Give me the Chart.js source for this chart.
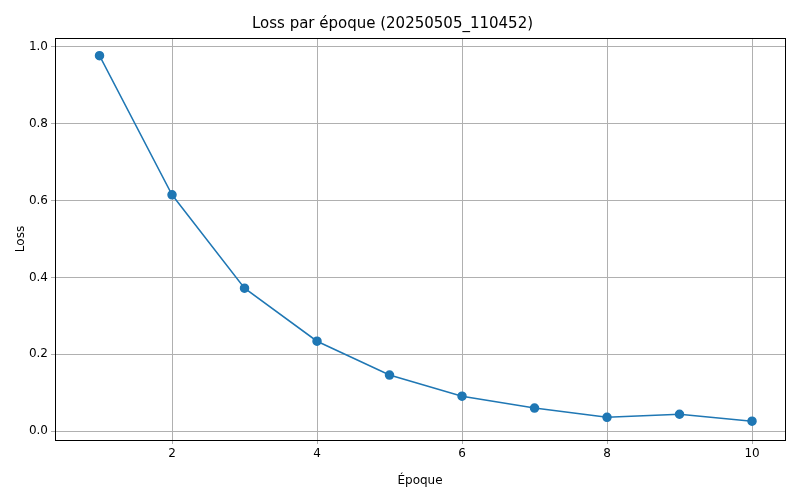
<!DOCTYPE html>
<html>
<head>
<meta charset="utf-8">
<script src="https://cdn.jsdelivr.net/npm/chart.js@4/dist/chart.umd.min.js"></script>
<style>
  body { margin: 0; background: #fff; }
  #wrap { width: 800px; height: 500px; }
</style>
</head>
<body>
<div id="wrap"><canvas id="graficoLoss" width="800" height="500"></canvas></div>
<script>
const epoques = [1, 2, 3, 4, 5, 6, 7, 8, 9, 10];
const losses = [0.977, 0.615, 0.372, 0.234, 0.146, 0.091, 0.060, 0.036, 0.044, 0.026];
const ticksX = [2, 4, 6, 8, 10];
const ticksY = [0.0, 0.2, 0.4, 0.6, 0.8, 1.0];

const police = { family: "DejaVu Sans", size: 12 };

// cadre noir autour de la zone du graphique
const cadre = {
  id: "cadre",
  afterDraw(chart) {
    const { ctx, chartArea: a } = chart;
    ctx.save();
    ctx.strokeStyle = "#000";
    ctx.lineWidth = 1;
    ctx.strokeRect(a.left + 0.5, a.top + 0.5, a.right - a.left, a.bottom - a.top);
    ctx.restore();
  }
};

new Chart(document.getElementById("graficoLoss").getContext("2d"), {
  type: "line",
  data: {
    datasets: [{
      data: epoques.map((e, i) => ({ x: e, y: losses[i] })),
      borderColor: "#1f77b4",
      backgroundColor: "#1f77b4",
      borderWidth: 1.5,
      pointRadius: 4,
      pointHoverRadius: 4,
      tension: 0
    }]
  },
  options: {
    responsive: false,
    animation: false,
    layout: { padding: { left: 0, right: 15, top: 0, bottom: 0 } },
    plugins: {
      legend: { display: false },
      tooltip: { enabled: false },
      title: {
        display: true,
        text: "Loss par époque (20250505_110452)",
        color: "#000",
        font: { family: "DejaVu Sans", size: 15, weight: "normal" },
        padding: { top: 15, bottom: 5 }
      }
    },
    scales: {
      x: {
        type: "linear",
        min: 0.386,
        max: 10.455,
        afterBuildTicks: s => { s.ticks = ticksX.map(v => ({ value: v })); },
        afterFit: s => { s.height = 60; },
        grid: { color: "#b0b0b0", drawTicks: true, tickLength: 4 },
        border: { display: false },
        ticks: { color: "#000", font: police, callback: v => String(v) },
        title: { display: true, text: "Époque", color: "#000", font: police, padding: { top: 0, bottom: 12 } }
      },
      y: {
        min: -0.023,
        max: 1.023,
        afterBuildTicks: s => { s.ticks = ticksY.map(v => ({ value: v })); },
        afterFit: s => { s.width = 55; },
        grid: { color: "#b0b0b0", drawTicks: true, tickLength: 4 },
        border: { display: false },
        ticks: { color: "#000", font: police, callback: v => v.toFixed(1) },
        title: { display: true, text: "Loss", color: "#000", font: police, padding: { top: 14, bottom: 0 } }
      }
    }
  },
  plugins: [cadre]
});
</script>
</body>
</html>
